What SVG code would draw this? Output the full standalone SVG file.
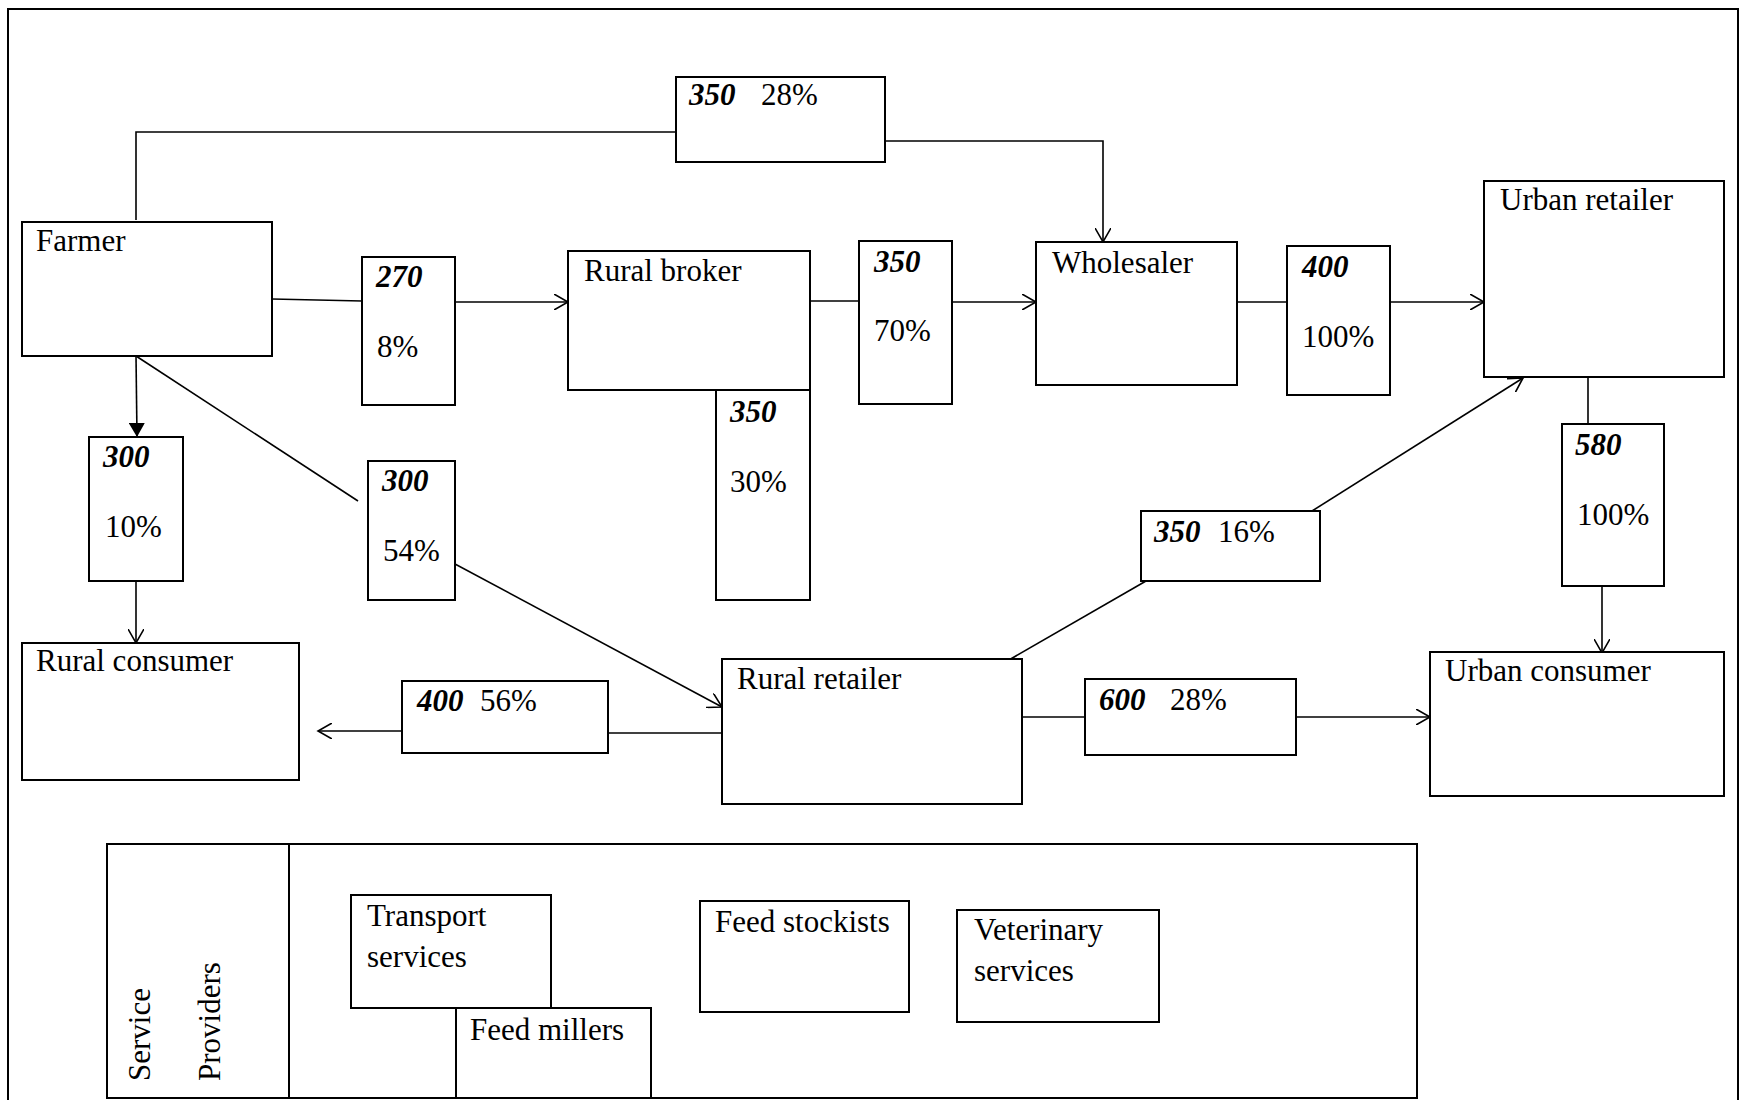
<svg xmlns="http://www.w3.org/2000/svg" width="1743" height="1100" viewBox="0 0 1743 1100">
<defs>
<marker id="open" markerUnits="userSpaceOnUse" markerWidth="16" markerHeight="16" refX="14" refY="8" orient="auto" viewBox="0 0 16 16">
<path d="M0,0 L14,8 L0,16" fill="none" stroke="#000" stroke-width="1.6"/>
</marker>
<marker id="filled" markerUnits="userSpaceOnUse" markerWidth="16" markerHeight="16" refX="14" refY="8" orient="auto" viewBox="0 0 16 16">
<path d="M0,0 L14,8 L0,16 Z" fill="#000"/>
</marker>
</defs>
<style>
.box{fill:#fff;stroke:#000;stroke-width:2}
.t{font-family:"Liberation Serif","Times New Roman",serif;font-size:31px;fill:#000}
.n{font-family:"Liberation Serif","Times New Roman",serif;font-size:31px;font-weight:bold;font-style:italic;fill:#000}
.c{fill:none;stroke:#000;stroke-width:1.6}
.ca{fill:none;stroke:#000;stroke-width:1.6;marker-end:url(#open)}
</style>
<rect x="8" y="9" width="1730" height="1100" fill="#fff" stroke="#000" stroke-width="2"/>

<g id="connectors">
<polyline class="c" points="136,220 136,132 676,132"/>
<polyline class="ca" points="885,141 1103,141 1103,242"/>
<line class="c" x1="272" y1="299" x2="362" y2="301"/>
<line class="ca" x1="455" y1="302" x2="568" y2="302"/>
<line class="c" x1="810" y1="301" x2="859" y2="301"/>
<line class="ca" x1="952" y1="302" x2="1036" y2="302"/>
<line class="c" x1="1237" y1="302" x2="1287" y2="302"/>
<line class="ca" x1="1390" y1="302" x2="1484" y2="302"/>
<line class="c" x1="1588" y1="377" x2="1588" y2="424"/>
<line class="ca" x1="1602" y1="583" x2="1602" y2="653"/>
<line class="c" x1="136" y1="356" x2="137" y2="437" style="marker-end:url(#filled)"/>
<line class="ca" x1="136" y1="581" x2="136" y2="643"/>
<line class="c" x1="136" y1="356" x2="358" y2="501"/>
<line class="ca" x1="455" y1="564" x2="722" y2="707"/>
<line class="c" x1="722" y1="733" x2="603" y2="733"/>
<line class="ca" x1="402" y1="731" x2="318" y2="731"/>
<line class="c" x1="1022" y1="717" x2="1085" y2="717"/>
<line class="ca" x1="1290" y1="717" x2="1430" y2="717"/>
<line class="c" x1="1002" y1="664" x2="1146" y2="581"/>
<line class="ca" x1="1312" y1="511" x2="1523" y2="378"/>
</g>

<g id="farmer"><rect class="box" x="22" y="222" width="250" height="134"/><text class="t" x="36" y="251">Farmer</text></g>
<g id="rural-broker"><rect class="box" x="568" y="251" width="242" height="139"/><text class="t" x="584" y="281">Rural broker</text></g>
<g id="wholesaler"><rect class="box" x="1036" y="242" width="201" height="143"/><text class="t" x="1052" y="273">Wholesaler</text></g>
<g id="urban-retailer"><rect class="box" x="1484" y="181" width="240" height="196"/><text class="t" x="1500" y="210">Urban retailer</text></g>
<g id="rural-consumer"><rect class="box" x="22" y="643" width="277" height="137"/><text class="t" x="36" y="671">Rural consumer</text></g>
<g id="rural-retailer"><rect class="box" x="722" y="659" width="300" height="145"/><text class="t" x="737" y="689">Rural retailer</text></g>
<g id="urban-consumer"><rect class="box" x="1430" y="652" width="294" height="144"/><text class="t" x="1445" y="681">Urban consumer</text></g>

<g id="p-350-28-top"><rect class="box" x="676" y="77" width="209" height="85"/><text x="689" y="105"><tspan class="n">350</tspan><tspan class="t" x="761">28%</tspan></text></g>
<g id="p-270"><rect class="box" x="362" y="257" width="93" height="148"/><text class="n" x="376" y="287">270</text><text class="t" x="377" y="357">8%</text></g>
<g id="p-350-30"><rect class="box" x="716" y="390" width="94" height="210"/><text class="n" x="730" y="422">350</text><text class="t" x="730" y="492">30%</text></g>
<g id="p-350-70"><rect class="box" x="859" y="241" width="93" height="163"/><text class="n" x="874" y="272">350</text><text class="t" x="874" y="341">70%</text></g>
<g id="p-400-100"><rect class="box" x="1287" y="246" width="103" height="149"/><text class="n" x="1302" y="277">400</text><text class="t" x="1302" y="347">100%</text></g>
<g id="p-580"><rect class="box" x="1562" y="424" width="102" height="162"/><text class="n" x="1575" y="455">580</text><text class="t" x="1577" y="525">100%</text></g>
<g id="p-300-10"><rect class="box" x="89" y="437" width="94" height="144"/><text class="n" x="103" y="467">300</text><text class="t" x="105" y="537">10%</text></g>
<g id="p-300-54"><rect class="box" x="368" y="461" width="87" height="139"/><text class="n" x="382" y="491">300</text><text class="t" x="383" y="561">54%</text></g>
<g id="p-400-56"><rect class="box" x="402" y="681" width="206" height="72"/><text x="417" y="711"><tspan class="n">400</tspan><tspan class="t" x="480">56%</tspan></text></g>
<g id="p-600-28"><rect class="box" x="1085" y="679" width="211" height="76"/><text x="1099" y="710"><tspan class="n">600</tspan><tspan class="t" x="1170">28%</tspan></text></g>
<g id="p-350-16"><rect class="box" x="1141" y="511" width="179" height="70"/><text x="1154" y="542"><tspan class="n">350</tspan><tspan class="t" x="1218">16%</tspan></text></g>

<g id="service-providers">
<rect class="box" x="107" y="844" width="1310" height="254"/>
<line x1="289" y1="844" x2="289" y2="1098" stroke="#000" stroke-width="2"/>
<text class="t" transform="translate(150,1081) rotate(-90)">Service</text>
<text class="t" transform="translate(220,1081) rotate(-90)">Providers</text>
</g>
<g id="transport"><rect class="box" x="351" y="895" width="200" height="113"/><text class="t" x="367" y="926">Transport</text><text class="t" x="367" y="967">services</text></g>
<g id="feed-millers"><rect class="box" x="456" y="1008" width="195" height="90"/><text class="t" x="470" y="1040">Feed millers</text></g>
<g id="feed-stockists"><rect class="box" x="700" y="901" width="209" height="111"/><text class="t" x="715" y="932">Feed stockists</text></g>
<g id="veterinary"><rect class="box" x="957" y="910" width="202" height="112"/><text class="t" x="974" y="940">Veterinary</text><text class="t" x="974" y="981">services</text></g>
</svg>
